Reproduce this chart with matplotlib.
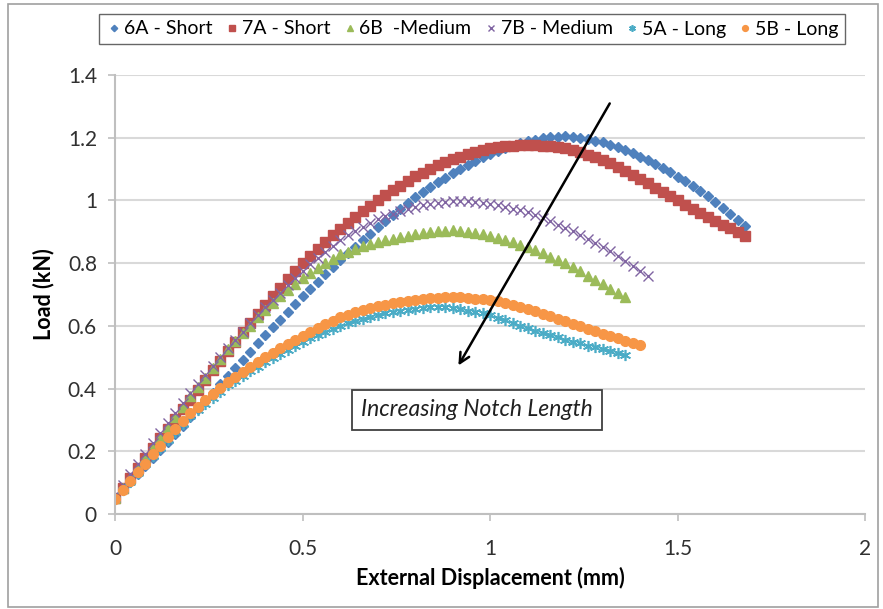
import numpy as np
import matplotlib
matplotlib.use('Agg')
import matplotlib.pyplot as plt
from matplotlib.patches import Rectangle

# krok przemieszczenia miedzy kolejnymi pomiarami (mm)
krok = 0.02

# obciazenie (kN) dla kolejnych pomiarow
load_6a = [0.050, 0.076, 0.101, 0.127, 0.152, 0.178, 0.204, 0.230, 0.256, 0.282,
           0.308, 0.334, 0.361, 0.387, 0.414, 0.440, 0.466, 0.492, 0.518, 0.544,
           0.570, 0.595, 0.620, 0.645, 0.670, 0.695, 0.718, 0.741, 0.764, 0.787,
           0.810, 0.831, 0.852, 0.873, 0.894, 0.915, 0.934, 0.953, 0.972, 0.991,
           1.010, 1.026, 1.042, 1.058, 1.073, 1.088, 1.101, 1.113, 1.125, 1.137,
           1.148, 1.157, 1.166, 1.175, 1.183, 1.190, 1.194, 1.198, 1.201, 1.203,
           1.205, 1.203, 1.200, 1.196, 1.191, 1.186, 1.178, 1.169, 1.160, 1.150,
           1.140, 1.128, 1.116, 1.103, 1.090, 1.076, 1.061, 1.045, 1.029, 1.013,
           0.996, 0.977, 0.958, 0.938, 0.918]

load_7a = [0.050, 0.082, 0.114, 0.146, 0.178, 0.210, 0.241, 0.272, 0.303, 0.334,
           0.365, 0.396, 0.427, 0.458, 0.489, 0.520, 0.550, 0.580, 0.609, 0.639,
           0.668, 0.695, 0.722, 0.748, 0.774, 0.800, 0.823, 0.845, 0.867, 0.889,
           0.910, 0.929, 0.947, 0.965, 0.983, 1.000, 1.016, 1.032, 1.047, 1.062,
           1.077, 1.089, 1.101, 1.112, 1.123, 1.133, 1.140, 1.147, 1.154, 1.160,
           1.166, 1.169, 1.172, 1.175, 1.177, 1.178, 1.177, 1.175, 1.173, 1.171,
           1.168, 1.161, 1.154, 1.146, 1.138, 1.130, 1.118, 1.106, 1.093, 1.081,
           1.068, 1.054, 1.041, 1.027, 1.014, 1.000, 0.987, 0.974, 0.961, 0.948,
           0.935, 0.923, 0.912, 0.900, 0.888]

load_6b = [0.050, 0.082, 0.114, 0.146, 0.178, 0.210, 0.243, 0.276, 0.309, 0.342,
           0.375, 0.405, 0.435, 0.465, 0.495, 0.525, 0.551, 0.576, 0.601, 0.627,
           0.652, 0.673, 0.694, 0.714, 0.733, 0.752, 0.768, 0.784, 0.799, 0.814,
           0.828, 0.837, 0.846, 0.854, 0.861, 0.868, 0.873, 0.878, 0.883, 0.888,
           0.893, 0.896, 0.899, 0.902, 0.904, 0.905, 0.903, 0.899, 0.896, 0.892,
           0.888, 0.881, 0.873, 0.866, 0.858, 0.850, 0.841, 0.831, 0.821, 0.811,
           0.800, 0.787, 0.774, 0.760, 0.747, 0.733, 0.719, 0.705, 0.691]

load_7b = [0.060, 0.093, 0.126, 0.159, 0.192, 0.225, 0.257, 0.289, 0.321, 0.353,
           0.385, 0.414, 0.443, 0.472, 0.501, 0.530, 0.556, 0.582, 0.608, 0.634,
           0.660, 0.683, 0.706, 0.729, 0.752, 0.775, 0.796, 0.816, 0.836, 0.856,
           0.875, 0.889, 0.903, 0.916, 0.929, 0.942, 0.950, 0.958, 0.965, 0.972,
           0.979, 0.984, 0.989, 0.993, 0.996, 0.998, 0.998, 0.997, 0.995, 0.993,
           0.990, 0.985, 0.979, 0.973, 0.968, 0.962, 0.953, 0.943, 0.933, 0.923,
           0.913, 0.901, 0.889, 0.877, 0.865, 0.853, 0.838, 0.822, 0.807, 0.791,
           0.776, 0.760]

load_5a = [0.047, 0.075, 0.103, 0.130, 0.158, 0.186, 0.212, 0.237, 0.262, 0.287,
           0.312, 0.332, 0.351, 0.371, 0.390, 0.410, 0.425, 0.440, 0.455, 0.470,
           0.485, 0.498, 0.511, 0.524, 0.537, 0.550, 0.560, 0.570, 0.580, 0.590,
           0.600, 0.608, 0.615, 0.622, 0.629, 0.636, 0.640, 0.644, 0.648, 0.652,
           0.655, 0.658, 0.660, 0.661, 0.660, 0.657, 0.653, 0.648, 0.644, 0.640,
           0.635, 0.626, 0.618, 0.609, 0.601, 0.592, 0.585, 0.578, 0.570, 0.563,
           0.556, 0.550, 0.544, 0.537, 0.531, 0.525, 0.519, 0.513, 0.507]

load_5b = [0.047, 0.075, 0.104, 0.133, 0.161, 0.190, 0.217, 0.244, 0.270, 0.296,
           0.321, 0.342, 0.363, 0.383, 0.403, 0.422, 0.438, 0.454, 0.470, 0.485,
           0.500, 0.514, 0.528, 0.542, 0.555, 0.568, 0.580, 0.592, 0.605, 0.617,
           0.628, 0.636, 0.643, 0.650, 0.657, 0.664, 0.668, 0.672, 0.676, 0.680,
           0.684, 0.686, 0.688, 0.690, 0.691, 0.692, 0.691, 0.689, 0.687, 0.685,
           0.683, 0.678, 0.672, 0.667, 0.661, 0.655, 0.647, 0.639, 0.631, 0.622,
           0.614, 0.606, 0.598, 0.590, 0.583, 0.575, 0.568, 0.560, 0.553, 0.545,
           0.538]

etykiety = ['6A - Short', '7A - Short', '6B  -Medium', '7B - Medium', '5A - Long', '5B - Long']

x_ticks = [0, 0.5, 1, 1.5, 2]
y_ticks = [0, 0.2, 0.4, 0.6, 0.8, 1, 1.2, 1.4]

# --------------------------------------------------------------
plt.rcParams['font.family'] = ['Lato', 'DejaVu Sans']

fig = plt.figure(figsize=(8.83, 6.09), dpi=100)
ax = fig.add_axes([115 / 883, 95 / 609, 750 / 883, 439 / 609])

style = [
    dict(marker='D', color='#4F81BD', ms=5.4, mec='#4F81BD'),
    dict(marker='s', color='#C0504D', ms=7, mec='#C0504D'),
    dict(marker='^', color='#9BBB59', ms=7.5, mec='#9BBB59'),
    dict(marker='x', color='#8064A2', ms=6.5, mew=1.0),
    dict(marker=(6, 2, 0), color='#4BACC6', ms=8, mew=1.2),
    dict(marker='o', color='#F79646', ms=7, mec='#F79646'),
]
serie = [load_6a, load_7a, load_6b, load_7b, load_5a, load_5b]

for dane, nazwa, st in zip(serie, etykiety, style):
    x = np.arange(len(dane)) * krok
    ax.plot(x, dane, linestyle='none', label=nazwa, **st)

ax.set_xlim(0, 2)
ax.set_ylim(0, 1.4)
ax.set_xticks(x_ticks)
ax.set_xticklabels(['0', '0.5', '1', '1.5', '2'])
ax.set_yticks(y_ticks)
ax.set_yticklabels(['0', '0.2', '0.4', '0.6', '0.8', '1', '1.2', '1.4'])
ax.tick_params(labelsize=15, labelcolor='#303030', length=5, width=1.2, color='#BFBFBF')
ax.tick_params(axis='x', pad=13)
ax.tick_params(axis='y', pad=8)
ax.yaxis.grid(True, color='#D9D9D9', lw=1.5)
ax.set_axisbelow(True)
for s in ['top', 'right']:
    ax.spines[s].set_visible(False)
for s in ['left', 'bottom']:
    ax.spines[s].set_color('#BFBFBF')
    ax.spines[s].set_linewidth(1.5)

ax.set_xlabel('External Displacement (mm)', fontsize=15.5, fontweight='bold', labelpad=6)
ax.set_ylabel('Load (kN)', fontsize=15.5, fontweight='bold', labelpad=10)

# strzalka i opis
ax.annotate('', xy=(0.912, 0.466), xytext=(1.323, 1.317),
            arrowprops=dict(arrowstyle='->', color='black', lw=1.8, mutation_scale=18))
ax.text(0.965, 0.332, 'Increasing Notch Length', style='italic', ha='center', va='center',
        fontsize=16.5, color='#202020',
        bbox=dict(boxstyle='square,pad=0.4', fc='white', ec='#404040', lw=1.3))

fig.legend(loc='center', bbox_to_anchor=(472 / 883, 1 - 29 / 609), ncol=6, fontsize=14,
           frameon=True, fancybox=False, edgecolor='#404040', handletextpad=0.05,
           columnspacing=0.55, borderpad=0.35, handlelength=0.9, markerscale=0.6)

fig.patches.append(Rectangle((8 / 883, 2 / 609), 870 / 883, 603 / 609, transform=fig.transFigure,
                             fill=False, ec='#A0A0A0', lw=1.2))

fig.savefig('out.png', dpi=100)
